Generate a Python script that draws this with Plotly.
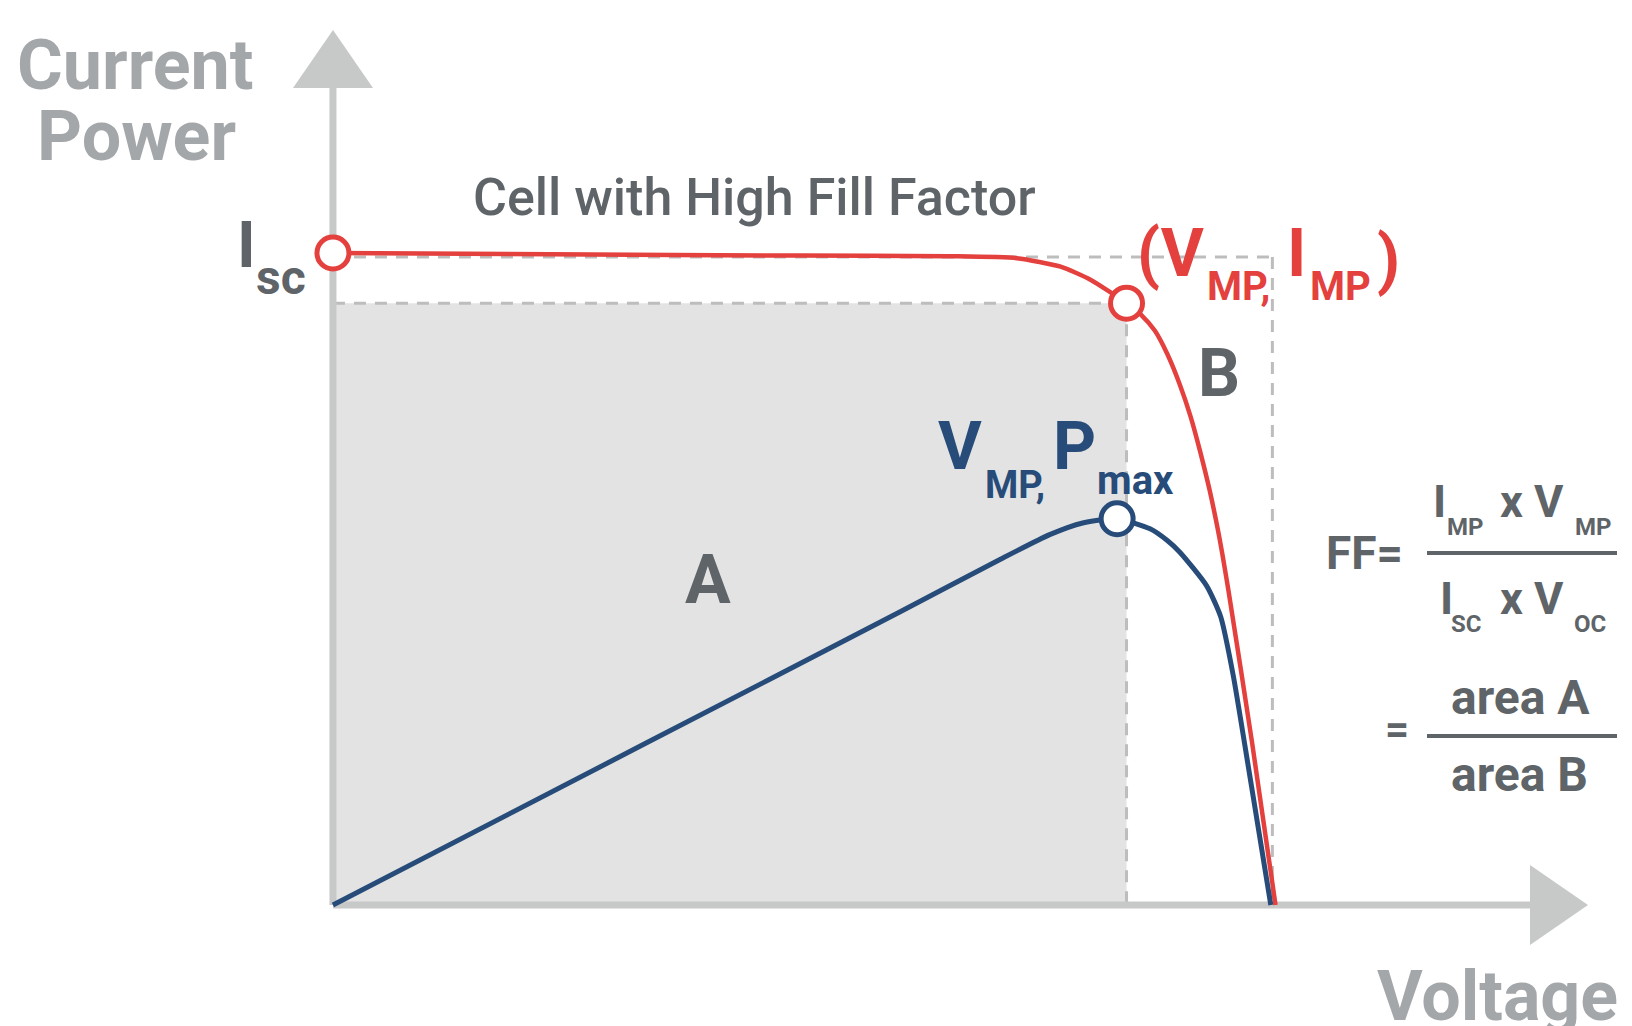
import plotly.graph_objects as go

W, H = 1632, 1026

# ---- data ----
# I-V curve of the cell (red), voltage in V, current normalised to Isc
V_IV = [0.000, 0.138, 0.298, 0.393, 0.436, 0.464, 0.483, 0.506, 0.515, 0.524,
        0.532, 0.540, 0.547, 0.553, 0.559, 0.565, 0.571, 0.586, 0.601]
I_IV = [1.000, 0.998, 0.996, 0.995, 0.992, 0.979, 0.959, 0.923, 0.906, 0.881,
        0.845, 0.798, 0.748, 0.695, 0.636, 0.566, 0.482, 0.250, 0.000]
# P-V curve (blue)
V_PV = [0.000, 0.200, 0.362, 0.425, 0.457, 0.478, 0.500, 0.521, 0.532, 0.540,
        0.557, 0.566, 0.574, 0.585, 0.598]
P_PV = [0.000, 0.194, 0.351, 0.413, 0.443, 0.457, 0.462, 0.450, 0.436, 0.422,
        0.382, 0.345, 0.275, 0.150, 0.000]

ISC = 1.000
ISC_LINE = 0.994
VOC = 0.599
VMP = 0.506
IMP = 0.923
V_PMAX = 0.500
PMAX = 0.462

X_RANGE = [-0.2123, 0.8283]
I_RANGE = [-0.1856, 1.3880]
P_RANGE = [-0.1447, 1.0825]

RED = "#e3403e"
BLUE = "#274c79"
DARK = "#5e6468"
LIGHT = "#a4a7a9"
AXIS = "#c7c8c8"
FILL = "#e3e3e3"
DASH = "#bdbdbd"


def dx(px):
    return X_RANGE[0] + px / W * (X_RANGE[1] - X_RANGE[0])


def dy(py):
    return I_RANGE[1] - py / H * (I_RANGE[1] - I_RANGE[0])


fig = go.Figure()

fig.add_trace(go.Scatter(x=V_IV, y=I_IV, mode="lines", line=dict(color=RED, width=4.5, shape="spline", smoothing=0.6),
                         cliponaxis=False, hoverinfo="skip", showlegend=False))
fig.add_trace(go.Scatter(x=V_PV, y=P_PV, mode="lines", yaxis="y2",
                         line=dict(color=BLUE, width=5, shape="spline", smoothing=0.6),
                         cliponaxis=False, hoverinfo="skip", showlegend=False))
fig.add_trace(go.Scatter(x=[0, VMP], y=[ISC, IMP], mode="markers",
                         marker=dict(size=32, color="white", line=dict(color=RED, width=5)),
                         cliponaxis=False, hoverinfo="skip", showlegend=False))
fig.add_trace(go.Scatter(x=[V_PMAX], y=[PMAX], mode="markers", yaxis="y2",
                         marker=dict(size=32, color="white", line=dict(color=BLUE, width=5)),
                         cliponaxis=False, hoverinfo="skip", showlegend=False))

shapes = []
# area A (grey rectangle)
shapes.append(dict(type="rect", xref="x", yref="y", x0=0, y0=0, x1=VMP, y1=IMP,
                   fillcolor=FILL, line=dict(width=0), layer="below"))
dash = dict(color=DASH, width=3, dash="12px,9px")
shapes.append(dict(type="line", xref="x", yref="y", x0=0, y0=IMP, x1=VMP, y1=IMP, line=dash, layer="below"))
shapes.append(dict(type="line", xref="x", yref="y", x0=VMP, y0=IMP, x1=VMP, y1=0, line=dash, layer="below"))
shapes.append(dict(type="line", xref="x", yref="y", x0=0, y0=ISC_LINE, x1=VOC, y1=ISC_LINE, line=dash, layer="below"))
shapes.append(dict(type="line", xref="x", yref="y", x0=VOC, y0=ISC_LINE, x1=VOC, y1=0, line=dash, layer="below"))
# axes
shapes.append(dict(type="line", xref="x", yref="y", x0=0, y0=0, x1=0, y1=dy(88),
                   line=dict(color=AXIS, width=7), layer="below"))
shapes.append(dict(type="line", xref="x", yref="y", x0=0, y0=0, x1=dx(1532), y1=0,
                   line=dict(color=AXIS, width=7), layer="below"))
shapes.append(dict(type="path", xref="x", yref="y", layer="below",
                   path=f"M {dx(293)},{dy(88)} L {dx(373)},{dy(88)} L {dx(333)},{dy(30)} Z",
                   fillcolor=AXIS, line=dict(width=0)))
shapes.append(dict(type="path", xref="x", yref="y", layer="below",
                   path=f"M {dx(1530)},{dy(865)} L {dx(1530)},{dy(945)} L {dx(1588)},{dy(905)} Z",
                   fillcolor=AXIS, line=dict(width=0)))
# fraction bars
for yb in (553, 736):
    shapes.append(dict(type="line", xref="paper", yref="paper", x0=1427 / W, x1=1617 / W,
                       y0=1 - yb / H, y1=1 - yb / H, line=dict(color=DARK, width=4)))


def txt(s, px, py, size, color, weight=700):
    return dict(text=s, x=px / W, y=1 - py / H, xref="paper", yref="paper",
                xanchor="left", yanchor="middle", showarrow=False, borderpad=0,
                font=dict(family="Roboto", size=size, color=color, weight=weight))


ann = [
    txt("Current", 16, 65, 70, LIGHT),
    txt("Power", 36, 136, 70, LIGHT),
    txt("Voltage", 1376, 996, 70, LIGHT),
    txt("Cell with High Fill Factor", 472, 198, 52, DARK, 500),
    txt("I", 236, 245, 64, DARK),
    txt("sc", 255, 278, 48, DARK),
    txt("(V", 1136, 254, 66, RED),
    txt("MP,", 1206, 287, 40, RED),
    txt("I", 1286, 254, 66, RED),
    txt("MP", 1309, 287, 40, RED),
    txt(")", 1376, 259, 66, RED),
    txt("B", 1197, 373, 66, DARK),
    txt("A", 684, 580, 68, DARK),
    txt("V", 937, 446, 67, BLUE),
    txt("MP,", 984, 485, 38, BLUE),
    txt("P", 1052, 446, 67, BLUE),
    txt("max", 1096, 480, 40, BLUE),
    txt("FF=", 1325, 553, 46, DARK),
    txt("I", 1432, 501, 45, DARK),
    txt("MP", 1446, 527, 24, DARK),
    txt("x V", 1499, 501, 45, DARK),
    txt("MP", 1574, 527, 24, DARK),
    txt("I", 1439, 598, 45, DARK),
    txt("SC", 1450, 624, 24, DARK),
    txt("x V", 1499, 598, 45, DARK),
    txt("OC", 1573, 624, 24, DARK),
    txt("=", 1384, 729, 42, DARK),
    txt("area A", 1450, 697, 48, DARK),
    txt("area B", 1450, 774, 48, DARK),
]

fig.update_layout(
    width=W, height=H, autosize=False,
    margin=dict(l=0, r=0, t=0, b=0, pad=0),
    paper_bgcolor="white", plot_bgcolor="white",
    xaxis=dict(range=X_RANGE, visible=False, fixedrange=True),
    yaxis=dict(range=I_RANGE, visible=False, fixedrange=True),
    yaxis2=dict(range=P_RANGE, visible=False, overlaying="y", fixedrange=True),
    shapes=shapes, annotations=ann, showlegend=False,
)

fig.write_html("out.html", config={"displayModeBar": False},
               post_script="document.body.style.margin='0';document.body.style.overflow='hidden';")
